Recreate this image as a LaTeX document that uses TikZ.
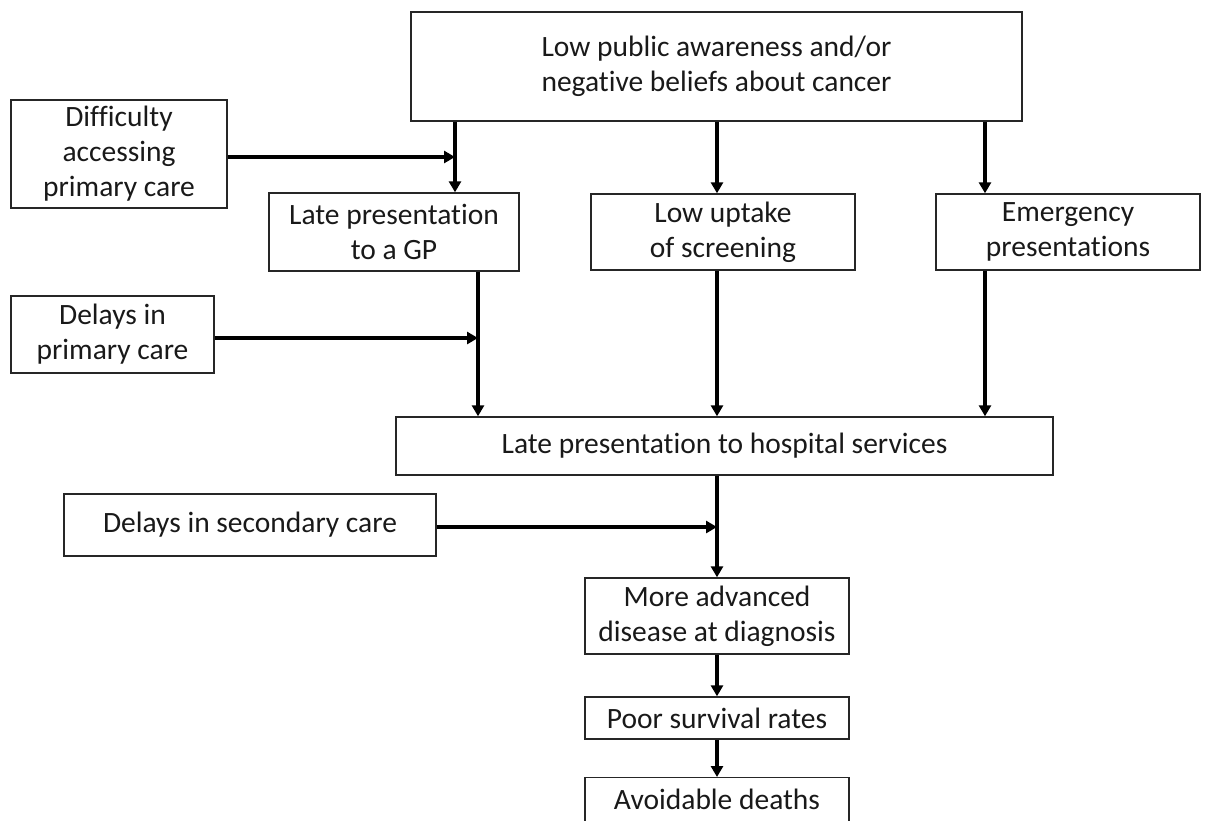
\documentclass[tikz,border=0pt]{standalone}
\usepackage{fontspec}
\setmainfont{Carlito}[Ligatures=NoCommon]
\usetikzlibrary{positioning, arrows.meta}
\tikzset{
    kasten/.style={
        draw=black!85,
        rectangle,
        line width=1.4pt,
        align=center,
        inner sep=0pt,
        text=black!90,
        font=\fontsize{29.5}{35}\selectfont
    },
    pfeil/.style={
        -{Triangle[length=11pt,width=12pt]},
        line width=3.6pt
    }
}

\begin{document}
\begin{tikzpicture}[x=1pt, y=-1pt]
    \useasboundingbox (0,0) rectangle (1206,820);

    % Obere Ursache
    \node[kasten, minimum width=611pt, minimum height=109pt] (awareness) at (716.5,66.5)
        {Low public awareness and/or\\negative beliefs about cancer};

    % Linke Einflussfaktoren
    \node[kasten, minimum width=216pt, minimum height=108pt] (difficulty) at (119,154)
        {Difficulty\\accessing\\primary care};
    \node[kasten, minimum width=203pt, minimum height=77pt] (delprimary) at (112.5,334.5)
        {Delays in\\primary care};
    \node[kasten, minimum width=372pt, minimum height=62pt] (delsecondary) at (250,525)
        {Delays in secondary care};

    % Mittlere Ebene
    \node[kasten, minimum width=250pt, minimum height=78pt] (gp) at (394,232)
        {Late presentation\\to a GP};
    \node[kasten, minimum width=264pt, minimum height=76pt] (screening) at (723,232)
        {Low uptake\\of screening};
    \node[kasten, minimum width=264pt, minimum height=76pt] (emergency) at (1068,232)
        {Emergency\\presentations};

    % Untere Kette
    \node[kasten, minimum width=657pt, minimum height=58pt] (hospital) at (724.5,446)
        {Late presentation to hospital services};
    \node[kasten, minimum width=264pt, minimum height=76pt] (advanced) at (717,616)
        {More advanced\\disease at diagnosis};
    \node[kasten, minimum width=264pt, minimum height=42pt] (survival) at (717,718)
        {Poor survival rates};
    \node[kasten, minimum width=264pt, minimum height=44pt, anchor=north] (deaths) at (717,777)
        {Avoidable deaths};

    % Knickpunkte der Pfeile
    \coordinate (jgp) at (455,157);
    \coordinate (jhosp) at (478,338);
    \coordinate (jmid) at (717,527);
    \coordinate (jemerg) at (985,0);

    % Pfeile
    \draw[pfeil] (awareness.south -| jgp) -- (gp.north -| jgp);
    \draw[pfeil] (awareness.south -| jmid) -- (screening.north -| jmid);
    \draw[pfeil] (awareness.south -| jemerg) -- (emergency.north -| jemerg);
    \draw[pfeil] (difficulty.east |- jgp) -- (jgp);

    \draw[pfeil] (gp.south -| jhosp) -- (hospital.north -| jhosp);
    \draw[pfeil] (delprimary.east |- jhosp) -- (jhosp);
    \draw[pfeil] (screening.south -| jmid) -- (hospital.north -| jmid);
    \draw[pfeil] (emergency.south -| jemerg) -- (hospital.north -| jemerg);

    \draw[pfeil] (hospital.south -| jmid) -- (advanced.north -| jmid);
    \draw[pfeil] (delsecondary.east |- jmid) -- (jmid);
    \draw[pfeil] (advanced.south -| jmid) -- (survival.north -| jmid);
    \draw[pfeil] (survival.south -| jmid) -- (deaths.north -| jmid);

\end{tikzpicture}
\end{document}
